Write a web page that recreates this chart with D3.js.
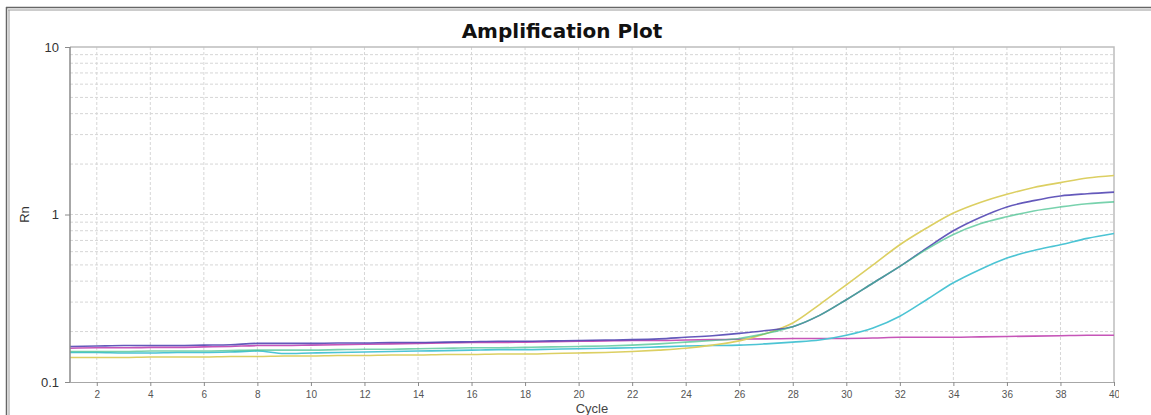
<!DOCTYPE html>
<html>
<head>
<meta charset="utf-8">
<style>
  body { margin: 0; background: #fff; }
  svg { display: block; font-family: 'Liberation Sans', Arial, sans-serif; }
</style>
</head>
<body>
<svg width="1151" height="415"></svg>
<script src="https://d3js.org/d3.v7.min.js"></script>
<script>
// cycle numbers
const cycles = d3.range(1, 41);

// Rn values, one per cycle (1..40)
const purple = [0.163, 0.164, 0.165, 0.165, 0.165, 0.166, 0.167, 0.170, 0.170, 0.170,
                0.171, 0.171, 0.172, 0.172, 0.173, 0.174, 0.175, 0.175, 0.176, 0.177,
                0.178, 0.179, 0.181, 0.185, 0.189, 0.195, 0.203, 0.214, 0.250, 0.310,
                0.390, 0.490, 0.630, 0.800, 0.960, 1.110, 1.210, 1.290, 1.330, 1.360];
const magenta = [0.159, 0.160, 0.160, 0.161, 0.161, 0.162, 0.163, 0.165, 0.165, 0.166,
                 0.167, 0.168, 0.169, 0.170, 0.171, 0.172, 0.172, 0.173, 0.174, 0.175,
                 0.176, 0.177, 0.177, 0.178, 0.179, 0.180, 0.181, 0.182, 0.182, 0.182,
                 0.183, 0.185, 0.185, 0.185, 0.186, 0.187, 0.188, 0.189, 0.190, 0.190];
const green = [0.152, 0.152, 0.152, 0.153, 0.153, 0.153, 0.154, 0.155, 0.155, 0.155,
               0.156, 0.157, 0.157, 0.158, 0.159, 0.160, 0.160, 0.161, 0.162, 0.163,
               0.164, 0.166, 0.169, 0.173, 0.177, 0.182, 0.195, 0.214, 0.250, 0.310,
               0.390, 0.490, 0.620, 0.760, 0.880, 0.970, 1.050, 1.110, 1.160, 1.190];
const cyan = [0.150, 0.150, 0.149, 0.149, 0.150, 0.150, 0.151, 0.153, 0.148, 0.149,
              0.150, 0.151, 0.152, 0.153, 0.154, 0.155, 0.156, 0.156, 0.157, 0.158,
              0.159, 0.160, 0.162, 0.164, 0.165, 0.166, 0.169, 0.173, 0.178, 0.190,
              0.210, 0.247, 0.310, 0.391, 0.470, 0.550, 0.610, 0.660, 0.720, 0.770];
const yellow = [0.140, 0.140, 0.140, 0.141, 0.141, 0.141, 0.142, 0.142, 0.143, 0.143,
                0.144, 0.144, 0.145, 0.145, 0.146, 0.146, 0.147, 0.147, 0.148, 0.149,
                0.150, 0.152, 0.155, 0.159, 0.166, 0.176, 0.195, 0.225, 0.290, 0.380,
                0.500, 0.660, 0.830, 1.020, 1.180, 1.320, 1.450, 1.550, 1.650, 1.710];

const seriesList = [
  { name: "magenta", values: magenta, color: "#c655b8", opacity: 1 },
  { name: "cyan", values: cyan, color: "#4cc4d4", opacity: 1 },
  { name: "yellow", values: yellow, color: "#dccf62", opacity: 1 },
  { name: "purple", values: purple, color: "#5347b4", opacity: 0.9 },
  { name: "green", values: green, color: "#3fbf8a", opacity: 0.7 }
];

const xTicks = d3.range(2, 41, 2);
const yTicks = [0.1, 1, 10];

const width = 1151, height = 415;
const margin = { left: 70, right: 37, top: 47, bottom: 33 };

const svg = d3.select("svg");

// outer double frame
svg.append("line").attr("x1", 6).attr("x2", width).attr("y1", 7.5).attr("y2", 7.5)
  .style("stroke", "#666").style("stroke-width", 1.5);
svg.append("line").attr("x1", 8).attr("x2", width).attr("y1", 10).attr("y2", 10)
  .style("stroke", "#999").style("stroke-width", 1);
svg.append("line").attr("x1", 6.5).attr("x2", 6.5).attr("y1", 7).attr("y2", height)
  .style("stroke", "#666").style("stroke-width", 1.5);
svg.append("line").attr("x1", 9).attr("x2", 9).attr("y1", 10).attr("y2", height)
  .style("stroke", "#999").style("stroke-width", 1);

let x = d3.scaleLinear()
  .domain([1, 40])
  .range([margin.left, width - margin.right]);

let y = d3.scaleLog()
  .domain([0.1, 10])
  .range([height - margin.bottom, margin.top]);

// grid
let minor = [];
[0.1, 1].forEach(d => { for (let k = 2; k <= 9; k++) minor.push(d * k); });
minor.push(1);

svg.append("g")
  .selectAll("line")
  .data(minor)
  .join("line")
  .attr("x1", x(1)).attr("x2", x(40))
  .attr("y1", d => y(d)).attr("y2", d => y(d))
  .style("stroke", "#d6d6d6")
  .style("stroke-dasharray", "3,2")
  .style("stroke-width", 1);

svg.append("g")
  .selectAll("line")
  .data(xTicks.slice(0, -1))
  .join("line")
  .attr("x1", d => x(d)).attr("x2", d => x(d))
  .attr("y1", y(10)).attr("y2", y(0.1))
  .style("stroke", "#d6d6d6")
  .style("stroke-dasharray", "3,2")
  .style("stroke-width", 1);

// top + right border
svg.append("path")
  .attr("d", `M${x(1)},${y(10)}H${x(40)}V${y(0.1)}`)
  .style("fill", "none").style("stroke", "#bdbdbd").style("stroke-width", 1.5);

// curves
let line = d3.line()
  .x((d, i) => x(cycles[i]))
  .y(d => y(d))
  .curve(d3.curveMonotoneX);

svg.append("g")
  .selectAll("path")
  .data(seriesList)
  .join("path")
  .attr("d", d => line(d.values))
  .style("fill", "none")
  .style("stroke", d => d.color)
  .style("stroke-opacity", d => d.opacity)
  .style("stroke-width", 1.6);

// axes
svg.append("defs").append("clipPath").attr("id", "xclip")
  .append("rect").attr("x", 0).attr("y", 0).attr("width", 1119).attr("height", height);

let xAxis = svg.append("g")
  .attr("transform", `translate(0,${y(0.1)})`)
  .attr("clip-path", "url(#xclip)")
  .call(d3.axisBottom(x).tickValues(xTicks).tickSize(4).tickPadding(5));
xAxis.select(".domain").style("stroke", "#8a8a8a").style("stroke-width", 1.5)
  .attr("d", `M${x(1)},0H${x(40)}`);
xAxis.selectAll(".tick line").style("stroke", "#8a8a8a");
xAxis.selectAll(".tick text").style("font-size", "10px").style("fill", "#555");

let yAxis = svg.append("g")
  .attr("transform", `translate(${x(1)},0)`)
  .call(d3.axisLeft(y).tickValues(yTicks).tickFormat(d3.format("")).tickSize(5).tickPadding(6));
yAxis.select(".domain").style("stroke", "#8a8a8a").style("stroke-width", 1.5)
  .attr("d", `M0,${y(0.1)}V${y(10)}`);
yAxis.selectAll(".tick line").style("stroke", "#8a8a8a");
yAxis.selectAll(".tick text").style("font-size", "13px").style("fill", "#333");

// title and labels
svg.append("text")
  .attr("x", 562).attr("y", 38)
  .attr("text-anchor", "middle")
  .style("font-family", "'DejaVu Sans', sans-serif")
  .style("font-size", "20px").style("font-weight", "bold").style("fill", "#111")
  .text("Amplification Plot");

svg.append("text")
  .attr("x", (x(1) + x(40)) / 2).attr("y", 413)
  .attr("text-anchor", "middle")
  .style("font-size", "13px").style("fill", "#444")
  .text("Cycle");

svg.append("text")
  .attr("transform", `translate(29,${y(1)}) rotate(-90)`)
  .attr("text-anchor", "middle")
  .style("font-size", "13px").style("fill", "#333")
  .text("Rn");
</script>
</body>
</html>
